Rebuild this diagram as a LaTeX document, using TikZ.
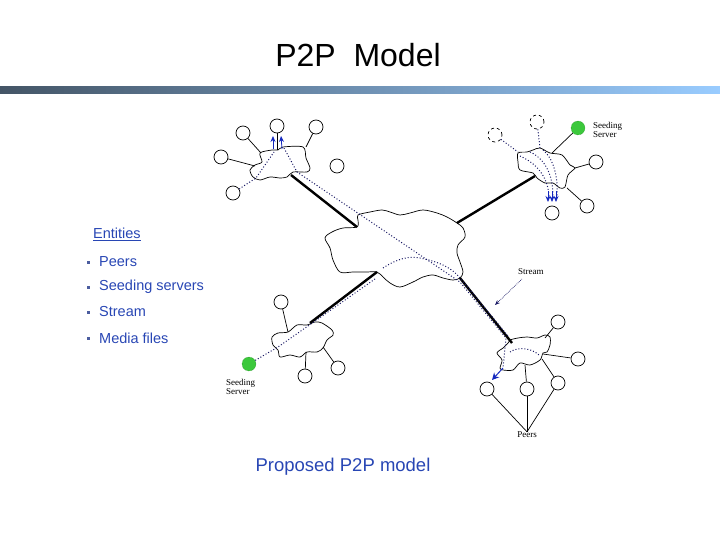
\documentclass[tikz,border=0pt]{standalone}
\usepackage{fontspec}
\setmainfont{Liberation Sans}
\newfontfamily\serifsmall{Liberation Serif}
\usetikzlibrary{arrows.meta}
\definecolor{txtblue}{RGB}{40,70,180}
\definecolor{navy}{RGB}{25,25,100}
\definecolor{arrblue}{RGB}{20,40,190}
\definecolor{seedgreen}{RGB}{60,200,60}
\definecolor{barleft}{RGB}{68,85,102}
\definecolor{barright}{RGB}{153,204,255}
\begin{document}
\begin{tikzpicture}[x=1pt,y=-1pt,
  peer/.style={draw,circle,minimum size=14pt,inner sep=0pt,line width=0.7pt},
  seed/.style={circle,fill=seedgreen,draw=seedgreen!60!black,densely dotted,minimum size=14pt,inner sep=0pt},
  cloudline/.style={draw,line width=0.7pt},
  trunk/.style={line width=2.4pt},
  thinline/.style={line width=0.7pt},
  flow/.style={navy,dotted,line width=1pt},
  bluearr/.style={arrblue,line width=0.8pt,-{Stealth[length=6pt,width=5pt]}},
  lbl/.style={font=\serifsmall\fontsize{9}{9}\selectfont,align=left,inner sep=0pt},
  bigtext/.style={font=\fontsize{14.5}{14.5}\selectfont,text=txtblue,anchor=west,inner sep=0pt},
  bulletbox/.style={fill=txtblue!60!gray,minimum size=3pt,inner sep=0pt}
]
\useasboundingbox (0,0) rectangle (720,540);

% title and bar
\node[font=\fontsize{32}{32}\selectfont,inner sep=0pt] (title) at (358,55) {P2P\ \ Model};
\shade[left color=barleft,right color=barright] (0,87) rectangle (720,94);

% entities list
\node[bigtext] (ent) at (93,234) {\underline{Entities}};
\node[bulletbox] (b1) at (88,262) {};
\node[bigtext] (t1) at (99,262) {Peers};
\node[bulletbox] (b2) at (88,287) {};
\node[bigtext] (t2) at (99,287) {Seeding servers};
\node[bulletbox] (b3) at (88,312) {};
\node[bigtext] (t3) at (99,312) {Stream};
\node[bulletbox] (b4) at (88,338) {};
\node[bigtext] (t4) at (99,338) {Media files};

\node[font=\fontsize{18.5}{18.5}\selectfont,text=txtblue,inner sep=0pt] (cap) at (343,467) {Proposed P2P model};

% ---------------- clouds ----------------
\draw[cloudline] plot[smooth cycle,tension=0.55] coordinates {
 (358,215) (370,212) (382,210) (390,212) (400,215) (410,213) (423,210) (437,213)
 (447,217) (457,223) (463,228) (465,237) (458,245) (457,253) (460,262) (463,272)
 (460,278) (453,280) (443,278) (433,275) (423,277) (413,282) (400,287) (390,283)
 (383,277) (377,272) (367,272) (353,272) (340,272) (333,260) (330,248) (325,238)
 (332,232) (343,228) (357,227) (358,220)};

\draw[cloudline] plot[smooth cycle,tension=0.5] coordinates {
 (260,153) (272,150) (278,150) (283,147) (303,147) (306,158) (310,168) (307,172)
 (293,172) (287,177) (280,178) (270,177) (260,180) (253,177) (250,170) (255,165) (262,162)};

\draw[cloudline] plot[smooth cycle,tension=0.5] coordinates {
 (533,150) (540,148) (550,153) (562,155) (570,165) (575,168) (568,175) (565,187)
 (560,188) (553,183) (545,183) (537,178) (533,173) (520,170) (518,162) (518,153) (527,152)};

\draw[cloudline] plot[smooth cycle,tension=0.5] coordinates {
 (272,337) (278,333) (288,332) (297,325) (307,325) (315,322) (322,323) (332,330)
 (333,335) (327,340) (323,348) (317,352) (307,352) (300,357) (290,355) (280,357)
 (278,350) (273,345)};

\draw[cloudline] plot[smooth cycle,tension=0.5] coordinates {
 (510,340) (518,338) (527,337) (537,338) (545,335) (550,337) (550,345) (547,352)
 (543,353) (540,360) (530,365) (520,363) (513,370) (503,370) (500,368) (502,360)
 (497,353) (503,348) (508,343)};

% ---------------- trunks ----------------
\coordinate (tlOut) at (291,175);
\coordinate (cTL) at (357,227);
\coordinate (trOut) at (535,176);
\coordinate (cTR) at (457,223);
\coordinate (blOut) at (310,323);
\coordinate (cBL) at (377,272);
\coordinate (brOut) at (512,343);
\coordinate (cBR) at (460,278);
\draw[trunk] (tlOut) -- (cTL);
\draw[trunk] (trOut) -- (cTR);
\draw[trunk] (blOut) -- (cBL);
\draw[trunk] (brOut) -- (cBR);

% ---------------- top-left cluster ----------------
\node[peer] (p1) at (243,133) {};
\node[peer] (p2) at (277,126) {};
\node[peer] (p3) at (316,127) {};
\node[peer] (p4) at (221,157) {};
\node[peer] (p5) at (337,166) {};
\node[peer] (p6) at (233,193) {};
\coordinate (q1) at (261,153);
\coordinate (q2) at (277,150);
\coordinate (q3) at (306,147);
\coordinate (q4) at (255,166);
\coordinate (q6) at (256,178);
\draw[thinline] (p1) -- (q1);
\draw[thinline] (p2) -- (q2);
\draw[thinline] (p3) -- (q3);
\draw[thinline] (p4) -- (q4);
\draw[flow] (p6) -- (q6) -- (274,152);
\draw[bluearr] (273,149) -- (273,136);
\draw[bluearr] (282,149) -- (281,136);
% stream through the centre
\draw[flow] (284,148) -- (297,172) -- (460,282) -- (506,338) -- (503,368);

% ---------------- top-right cluster ----------------
\node[peer,dashed] (r1) at (537,122) {};
\node[peer,dashed] (r2) at (495,135) {};
\node[seed] (s1) at (578,128) {};
\node[peer] (r3) at (596,162) {};
\node[peer] (r4) at (587,206) {};
\node[peer] (r5) at (552,213) {};
\coordinate (u1) at (540,148);
\coordinate (u2) at (518,152);
\coordinate (u3) at (552,153);
\coordinate (u4) at (575,168);
\coordinate (u5) at (567,188);
\draw[flow] (r1) -- (u1);
\draw[flow] (r2) -- (u2);
\draw[thinline] (s1) -- (u3);
\draw[thinline] (r3) -- (u4);
\draw[thinline] (r4) -- (u5);
\draw[flow] (520,156) .. controls (540,165) and (548,180) .. (549,196);
\draw[flow] (530,152) .. controls (548,160) and (553,180) .. (553,196);
\draw[flow] (543,150) .. controls (555,160) and (558,180) .. (557,196);
\draw[bluearr] (548,191) -- (548,202);
\draw[bluearr] (552,191) -- (552,202);
\draw[bluearr] (556,191) -- (556,202);
\node[lbl] (lsTR) at (593,130) [anchor=west] {Seeding\\Server};

% ---------------- bottom-left cluster ----------------
\node[peer] (b1p) at (281,302) {};
\node[seed] (s2) at (249,364) {};
\node[peer] (b2p) at (305,376) {};
\node[peer] (b3p) at (338,368) {};
\coordinate (v1) at (288,332);
\coordinate (v2) at (306,352);
\coordinate (v3) at (323,347);
\coordinate (v4) at (278,347);
\draw[thinline] (b1p) -- (v1);
\draw[thinline] (b2p) -- (v2);
\draw[thinline] (b3p) -- (v3);
\draw[flow] (s2) -- (v4) -- (375,279);
\draw[flow] (383,268) .. controls (398,258) and (410,256) .. (420,258)
      .. controls (440,262) and (452,268) .. (460,278) -- (470,290) -- (508,336);
\node[lbl] (lsBL) at (226,387) [anchor=west] {Seeding\\Server};

% ---------------- bottom-right cluster ----------------
\node[peer] (d1) at (558,322) {};
\node[peer] (d2) at (578,359) {};
\node[peer] (d3) at (558,383) {};
\node[peer] (d4) at (527,389) {};
\node[peer] (d5) at (487,389) {};
\coordinate (w1) at (545,338);
\coordinate (w2) at (543,354);
\coordinate (w3) at (542,359);
\coordinate (w4) at (525,365);
\draw[thinline] (d1) -- (w1);
\draw[thinline] (d2) -- (w2);
\draw[thinline] (d3) -- (w3);
\draw[thinline] (d4) -- (w4);
\draw[flow] (510,352) .. controls (520,345) and (535,350) .. (540,356);
\draw[arrblue,line width=1pt,-{Stealth[length=7pt,width=7pt]}] (503,368) -- (492,380);

% labels
\node[lbl] (lStream) at (518,272) [anchor=west] {Stream};
\draw[navy,densely dotted,line width=0.7pt,-{Stealth[length=5pt,width=4pt]}] (522,279) -- (495,305);
\node[lbl] (lPeers) at (527,435) {Peers};
\draw[thinline] (lPeers.north) -- (d5);
\draw[thinline] (lPeers.north) -- (d4);
\draw[thinline] (lPeers.north) -- (d3);
\end{tikzpicture}
\end{document}
